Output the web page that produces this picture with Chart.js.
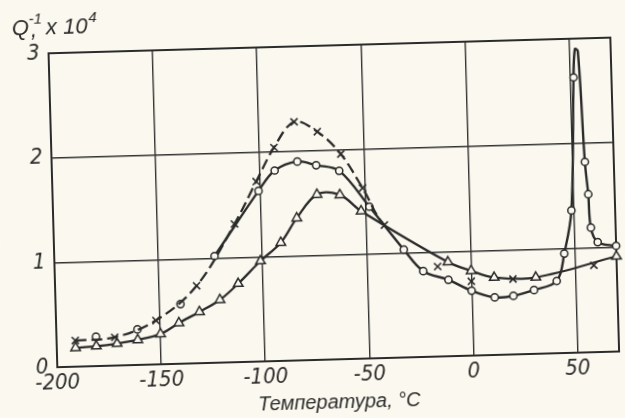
<!DOCTYPE html>
<html>
<head>
<meta charset="utf-8">
<script src="https://cdn.jsdelivr.net/npm/chart.js@4"></script>
<style>
  html, body { margin: 0; padding: 0; background: #fbf9ef; overflow: hidden; }
  #hoja { width: 625px; height: 418px; transform: rotate(-1.6deg); transform-origin: 50% 50%; }
  canvas { background: #fbf9ef; display: block; }
</style>
</head>
<body>
<div id="hoja"><canvas id="grafico" width="625" height="418"></canvas></div>
<script>
// Q^-1 x 10^4 contra temperatura (°C), tres series
const crucesT = [-191, -172, -152, -132, -113, -102, -93, -83, -72, -61, -51, -41, -16, 0, 20, 59];
const crucesQ = [0.25, 0.27, 0.42, 0.74, 1.32, 1.72, 2.04, 2.28, 2.18, 1.96, 1.63, 1.27, 0.86, 0.71, 0.72, 0.83];

const circulosT = [-181, -161, -140, -123, -101, -93, -82, -73, -62, -48, -32, -23, -11, 0, 11, 20, 30, 41, 45, 49, 51.8, 52.8, 54.2, 56.1, 57.3, 58.1, 61.2, 70];
const circulosQ = [0.28, 0.34, 0.57, 1.02, 1.63, 1.82, 1.90, 1.86, 1.80, 1.45, 1.03, 0.82, 0.73, 0.62, 0.55, 0.56, 0.61, 0.69, 0.95, 1.36, 2.63, 2.90, 2.88, 1.82, 1.51, 1.19, 1.05, 1.01];
const sinMarca = [52.8, 54.2]; // puntos del pico sin marcador

const triangulosT = [-191, -181, -171, -161, -150, -141, -131, -121, -112, -101, -91, -83, -73, -62, -52, -11, 0, 11, 31, 70];
const triangulosQ = [0.18, 0.19, 0.21, 0.24, 0.29, 0.39, 0.49, 0.60, 0.75, 0.96, 1.13, 1.36, 1.58, 1.57, 1.41, 0.90, 0.81, 0.74, 0.73, 0.91];

const ticksX = [-200, -150, -100, -50, 0, 50];
const ticksY = [0, 1, 2, 3];

const tinta = "#2b2b2b";
const papel = "#fbf9ef";
const fuenteTicks = { family: '"Liberation Sans Narrow", "DejaVu Sans Condensed", "Liberation Sans", sans-serif', size: 22, style: "italic" };

function puntos(xs, ys) {
  return xs.map((x, i) => ({ x: x, y: ys[i] }));
}

// marco del grafico y titulo del eje Y
const marco = {
  id: "marco",
  beforeDatasetsDraw(chart) {
    const { ctx, chartArea: a } = chart;
    ctx.save();
    ctx.strokeStyle = tinta;
    ctx.lineWidth = 2;
    ctx.strokeRect(a.left, a.top, a.right - a.left, a.bottom - a.top);
    ctx.restore();
  },
  afterDraw(chart) {
    const ctx = chart.ctx;
    const grande = 'italic 22px "Liberation Sans", sans-serif';
    const chica = 'italic 15px "Liberation Sans", sans-serif';
    ctx.save();
    ctx.fillStyle = tinta;
    ctx.textBaseline = "alphabetic";
    let x = 17;
    const y = 27;
    ctx.font = grande;
    ctx.fillText("Q", x, y);
    x += ctx.measureText("Q").width;
    ctx.font = chica;
    ctx.fillText("-1", x, y - 11);
    ctx.font = grande;
    ctx.fillText(",", x + 2, y + 2);
    x += 17;
    ctx.fillText("x 10", x, y);
    x += ctx.measureText("x 10").width + 1;
    ctx.font = chica;
    ctx.fillText("4", x, y - 11);
    ctx.restore();
  },
};

new Chart(document.getElementById("grafico").getContext("2d"), {
  type: "scatter",
  data: {
    datasets: [
      {
        label: "x",
        data: puntos(crucesT, crucesQ),
        showLine: true,
        tension: 0.35,
        borderColor: tinta,
        borderWidth: 2.3,
        borderDash: [11, 5],
        segment: {
          borderColor: (c) => (c.p0.parsed.x >= -41 ? "transparent" : tinta),
        },
        pointStyle: "crossRot",
        pointRadius: 5,
        pointBorderWidth: 1.6,
        pointBorderColor: tinta,
        clip: false,
      },
      {
        label: "o",
        data: puntos(circulosT, circulosQ),
        showLine: true,
        tension: 0.35,
        borderColor: tinta,
        borderWidth: 2.4,
        segment: {
          borderColor: (c) => (c.p1.parsed.x < -110 ? "transparent" : tinta),
        },
        pointStyle: "circle",
        pointRadius: (c) => (sinMarca.includes(c.raw.x) ? 0 : 3.6),
        pointBorderWidth: 1.5,
        pointBorderColor: tinta,
        pointBackgroundColor: papel,
        clip: false,
      },
      {
        label: "triangulo",
        data: puntos(triangulosT, triangulosQ),
        showLine: true,
        tension: 0.35,
        borderColor: tinta,
        borderWidth: 2.3,
        pointStyle: "triangle",
        pointRadius: 5.5,
        pointBorderWidth: 1.5,
        pointBorderColor: tinta,
        pointBackgroundColor: papel,
        clip: false,
      },
    ],
  },
  options: {
    responsive: false,
    animation: false,
    events: [],
    layout: { padding: { top: 46, right: 10, left: 0, bottom: 0 } },
    plugins: {
      legend: { display: false },
      tooltip: { enabled: false },
    },
    scales: {
      x: {
        type: "linear",
        min: -200,
        max: 70,
        afterBuildTicks: (s) => {
          s.ticks = ticksX.map((v) => ({ value: v }));
        },
        afterFit: (s) => {
          s.height = 58;
        },
        ticks: {
          color: tinta,
          font: fuenteTicks,
          padding: 3,
          maxRotation: 0,
          callback: (v) => String(v),
        },
        grid: { color: "#333", lineWidth: 1.4, drawTicks: false },
        border: { display: true, color: tinta, width: 2 },
        title: {
          display: true,
          text: "Температура, °C",
          color: tinta,
          font: { family: '"Liberation Sans", sans-serif', size: 20, style: "italic" },
          padding: { top: 0, bottom: 3 },
        },
      },
      y: {
        type: "linear",
        min: 0,
        max: 3,
        afterBuildTicks: (s) => {
          s.ticks = ticksY.map((v) => ({ value: v }));
        },
        afterFit: (s) => {
          s.width = 53;
        },
        ticks: {
          color: tinta,
          font: fuenteTicks,
          padding: 9,
          callback: (v) => String(v),
        },
        grid: { color: "#333", lineWidth: 1.4, drawTicks: false },
        border: { display: true, color: tinta, width: 2 },
      },
    },
  },
  plugins: [marco],
});
</script>
</body>
</html>
